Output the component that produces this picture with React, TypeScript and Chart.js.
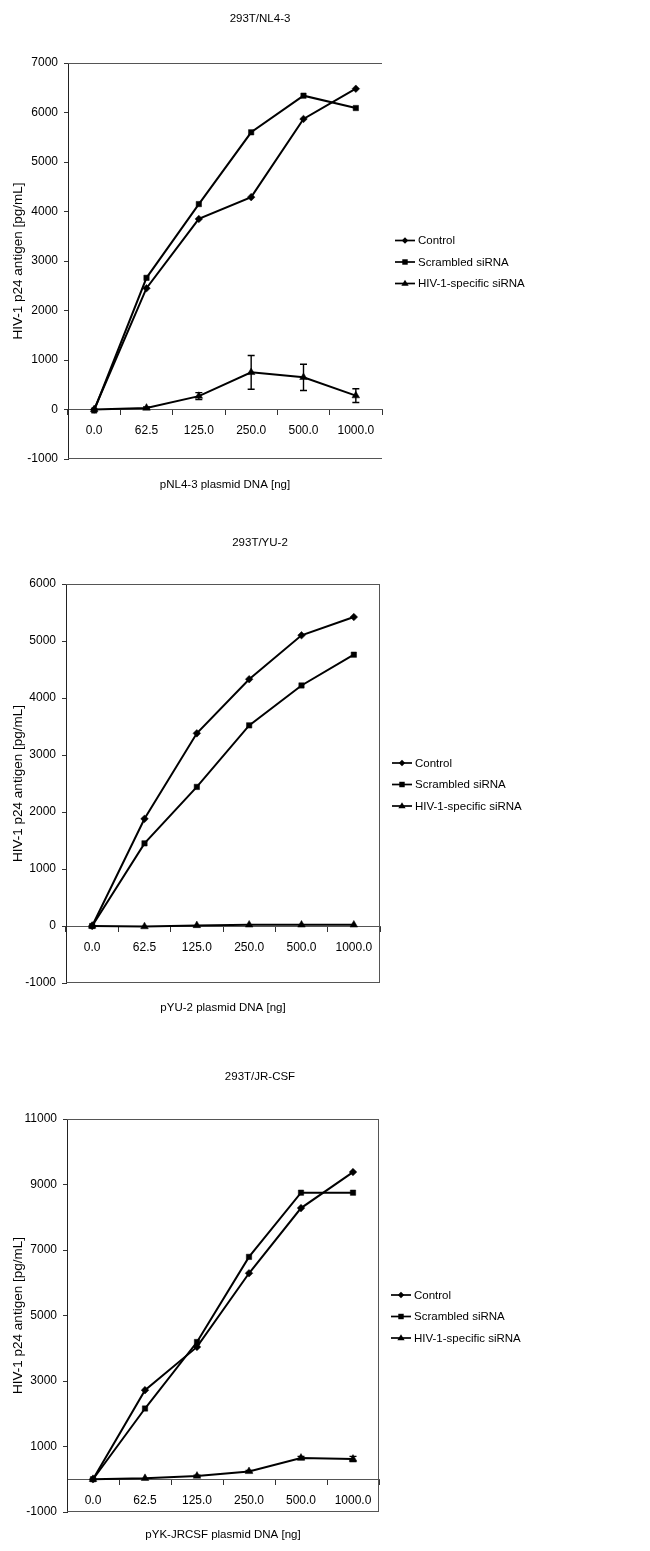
import React, { useEffect, useRef } from "react";
import { Chart, registerables } from "chart.js";

Chart.register(...registerables);

const FONT = "'Liberation Sans', Arial, Helvetica, sans-serif";

const doseLabels = ["0.0", "62.5", "125.0", "250.0", "500.0", "1000.0"];
const seriesNames = ["Control", "Scrambled siRNA", "HIV-1-specific siRNA"];
const yAxisTitle = "HIV-1 p24 antigen [pg/mL]";

// 293T/NL4-3
const nl43Control = [0, 2450, 3850, 4290, 5870, 6480];
const nl43Scrambled = [-20, 2660, 4150, 5600, 6340, 6090];
const nl43Specific = [0, 30, 270, 750, 650, 280];
const nl43SpecificErr = [0, 20, 70, 340, 265, 140];

// 293T/YU-2
const yu2Control = [0, 1880, 3380, 4330, 5100, 5420];
const yu2Scrambled = [0, 1450, 2440, 3520, 4220, 4760];
const yu2Specific = [0, -10, 10, 20, 20, 20];
const yu2SpecificErr = [0, 0, 0, 0, 0, 0];

// 293T/JR-CSF
const jrcsfControl = [0, 2720, 4040, 6290, 8280, 9380];
const jrcsfScrambled = [0, 2160, 4190, 6790, 8750, 8750];
const jrcsfSpecific = [0, 30, 100, 240, 650, 620];
const jrcsfSpecificErr = [0, 0, 20, 30, 50, 80];

const markerStyles = ["rectRot", "rect", "triangle"];
const markerRadii = [3.8, 3.8, 4.4];

function drawMarker(ctx: CanvasRenderingContext2D, style: string, x: number, y: number, r: number) {
  ctx.beginPath();
  if (style === "rectRot") {
    ctx.moveTo(x, y - r);
    ctx.lineTo(x + r, y);
    ctx.lineTo(x, y + r);
    ctx.lineTo(x - r, y);
  } else if (style === "rect") {
    const h = r * 0.85;
    ctx.rect(x - h, y - h, 2 * h, 2 * h);
  } else {
    ctx.moveTo(x, y - r);
    ctx.lineTo(x + r * 0.95, y + r * 0.6);
    ctx.lineTo(x - r * 0.95, y + r * 0.6);
  }
  ctx.closePath();
  ctx.fill();
}

const decorPlugin = {
  id: "decor",
  afterDatasetsDraw(chart: any, _args: any, opts: any) {
    const { ctx, scales } = chart;
    const meta = chart.getDatasetMeta(2);
    const vals = chart.data.datasets[2].data as number[];
    const errs: number[] = opts.errors || [];
    ctx.save();
    ctx.strokeStyle = "#000";
    ctx.lineWidth = 1.4;
    meta.data.forEach((pt: any, i: number) => {
      const e = errs[i];
      if (!e) return;
      const v = vals[i];
      const yTop = scales.y.getPixelForValue(v + e);
      const yBot = scales.y.getPixelForValue(v - e);
      const x = pt.x;
      ctx.beginPath();
      ctx.moveTo(x, yTop);
      ctx.lineTo(x, yBot);
      ctx.moveTo(x - 3.5, yTop);
      ctx.lineTo(x + 3.5, yTop);
      ctx.moveTo(x - 3.5, yBot);
      ctx.lineTo(x + 3.5, yBot);
      ctx.stroke();
    });
    ctx.restore();
  },
  afterDraw(chart: any, _args: any, opts: any) {
    const { ctx, chartArea: ca } = chart;
    ctx.save();
    // plot frame
    ctx.strokeStyle = "#555";
    ctx.lineWidth = 1;
    ctx.beginPath();
    ctx.moveTo(ca.left, Math.round(ca.top) + 0.5);
    ctx.lineTo(ca.right, Math.round(ca.top) + 0.5);
    ctx.moveTo(ca.left, Math.round(ca.bottom) - 0.5);
    ctx.lineTo(ca.right, Math.round(ca.bottom) - 0.5);
    if (opts.frameRight) {
      ctx.moveTo(Math.round(ca.right) - 0.5, ca.top);
      ctx.lineTo(Math.round(ca.right) - 0.5, ca.bottom);
    }
    ctx.stroke();

    // title
    ctx.fillStyle = "#000";
    ctx.font = `11.5px ${FONT}`;
    ctx.textAlign = "center";
    ctx.textBaseline = "middle";
    ctx.fillText(opts.title, opts.titleX, opts.titleY);

    // legend
    const cy = (ca.top + ca.bottom) / 2 + 1;
    const gap = 21.5;
    const lx = ca.right + opts.legendOffset;
    ctx.font = `11.5px ${FONT}`;
    ctx.textAlign = "left";
    chart.data.datasets.forEach((ds: any, i: number) => {
      const y = cy + (i - 1) * gap;
      ctx.strokeStyle = "#000";
      ctx.lineWidth = 1.7;
      ctx.beginPath();
      ctx.moveTo(lx, y);
      ctx.lineTo(lx + 20, y);
      ctx.stroke();
      ctx.fillStyle = "#000";
      drawMarker(ctx, markerStyles[i], lx + 10, y, i === 2 ? 3.8 : 3.2);
      ctx.fillText(ds.label, lx + 23, y + 0.5);
    });
    ctx.restore();
  },
};

type PanelProps = {
  top: number;
  height: number;
  title: string;
  titleY: number;
  xTitle: string;
  xTitlePad: number;
  yMin: number;
  yMax: number;
  yStep: number;
  plot: { l: number; t: number; r: number; b: number };
  frameRight: boolean;
  legendOffset: number;
  control: number[];
  scrambled: number[];
  specific: number[];
  specificErr: number[];
};

function Panel(p: PanelProps) {
  const ref = useRef<HTMLCanvasElement | null>(null);
  useEffect(() => {
    if (!ref.current) return;
    const W = 650;
    const series = [p.control, p.scrambled, p.specific];
    const chart = new Chart(ref.current, {
      type: "line",
      data: {
        labels: doseLabels,
        datasets: series.map((d, i) => ({
          label: seriesNames[i],
          data: d,
          borderColor: "#000",
          backgroundColor: "#000",
          borderWidth: 2,
          pointStyle: markerStyles[i] as any,
          pointRadius: markerRadii[i],
          pointBorderWidth: 0.5,
          pointBackgroundColor: "#000",
          pointBorderColor: "#000",
          fill: false,
          tension: 0,
          clip: false as any,
        })),
      },
      options: {
        animation: false,
        responsive: false,
        devicePixelRatio: 1,
        events: [],
        layout: { padding: { left: 0, top: p.plot.t, right: W - p.plot.r, bottom: 0 } },
        plugins: {
          legend: { display: false },
          title: { display: false },
          tooltip: { enabled: false },
          decor: {
            title: p.title,
            titleX: 260,
            titleY: p.titleY,
            errors: p.specificErr,
            frameRight: p.frameRight,
            legendOffset: p.legendOffset,
          },
        } as any,
        scales: {
          x: {
            type: "category",
            position: { y: 0 } as any,
            offset: true,
            grid: {
              display: true,
              drawOnChartArea: false,
              drawTicks: true,
              tickLength: 5,
              offset: true,
              color: "#333",
            },
            border: { display: true, color: "#555", width: 1 },
            ticks: {
              font: { family: FONT, size: 12 },
              color: "#000",
              padding: 9,
              maxRotation: 0,
              autoSkip: false,
            },
            afterFit: (s: any) => {
              s.height = 0;
            },
          },
          x2: {
            type: "category",
            position: "bottom",
            offset: true,
            grid: { display: false, drawTicks: false },
            border: { display: false },
            ticks: { display: false },
            title: {
              display: true,
              text: p.xTitle,
              color: "#000",
              font: { family: FONT, size: 11.5 },
              padding: { top: 0, bottom: p.xTitlePad },
            },
            afterFit: (s: any) => {
              s.height = p.height - p.plot.b;
            },
          },
          y: {
            type: "linear",
            position: "left",
            min: p.yMin,
            max: p.yMax,
            ticks: {
              stepSize: p.yStep,
              font: { family: FONT, size: 12 },
              color: "#000",
              padding: 6,
              callback: (v: any) => String(v),
            },
            grid: {
              drawOnChartArea: false,
              drawTicks: true,
              tickLength: 4,
              color: "#333",
            },
            border: { display: true, color: "#222", width: 1 },
            title: {
              display: true,
              text: yAxisTitle,
              color: "#000",
              font: { family: FONT, size: 13.5 },
              padding: { top: 10, bottom: 0 },
            },
            afterFit: (s: any) => {
              s.width = p.plot.l;
            },
          },
        },
      },
      plugins: [decorPlugin as any],
    });
    return () => chart.destroy();
  }, []);
  return (
    <canvas
      ref={ref}
      width={650}
      height={p.height}
      style={{ position: "absolute", left: 0, top: p.top, display: "block" }}
    />
  );
}

export default function App() {
  return (
    <div style={{ position: "absolute", left: 0, top: 0, width: 650, height: 1551, background: "#fff" }}>
      <Panel
        top={0}
        height={500}
        title="293T/NL4-3"
        titleY={19}
        xTitle="pNL4-3 plasmid DNA [ng]"
        xTitlePad={8}
        yMin={-1000}
        yMax={7000}
        yStep={1000}
        plot={{ l: 68, t: 63, r: 382, b: 459 }}
        frameRight={false}
        legendOffset={13}
        control={nl43Control}
        scrambled={nl43Scrambled}
        specific={nl43Specific}
        specificErr={nl43SpecificErr}
      />
      <Panel
        top={520}
        height={500}
        title="293T/YU-2"
        titleY={23}
        xTitle="pYU-2 plasmid DNA [ng]"
        xTitlePad={5}
        yMin={-1000}
        yMax={6000}
        yStep={1000}
        plot={{ l: 66, t: 64, r: 380, b: 463 }}
        frameRight={true}
        legendOffset={12}
        control={yu2Control}
        scrambled={yu2Scrambled}
        specific={yu2Specific}
        specificErr={yu2SpecificErr}
      />
      <Panel
        top={1040}
        height={511}
        title="293T/JR-CSF"
        titleY={37}
        xTitle="pYK-JRCSF plasmid DNA [ng]"
        xTitlePad={9}
        yMin={-1000}
        yMax={11000}
        yStep={2000}
        plot={{ l: 67, t: 79, r: 379, b: 472 }}
        frameRight={true}
        legendOffset={12}
        control={jrcsfControl}
        scrambled={jrcsfScrambled}
        specific={jrcsfSpecific}
        specificErr={jrcsfSpecificErr}
      />
    </div>
  );
}
